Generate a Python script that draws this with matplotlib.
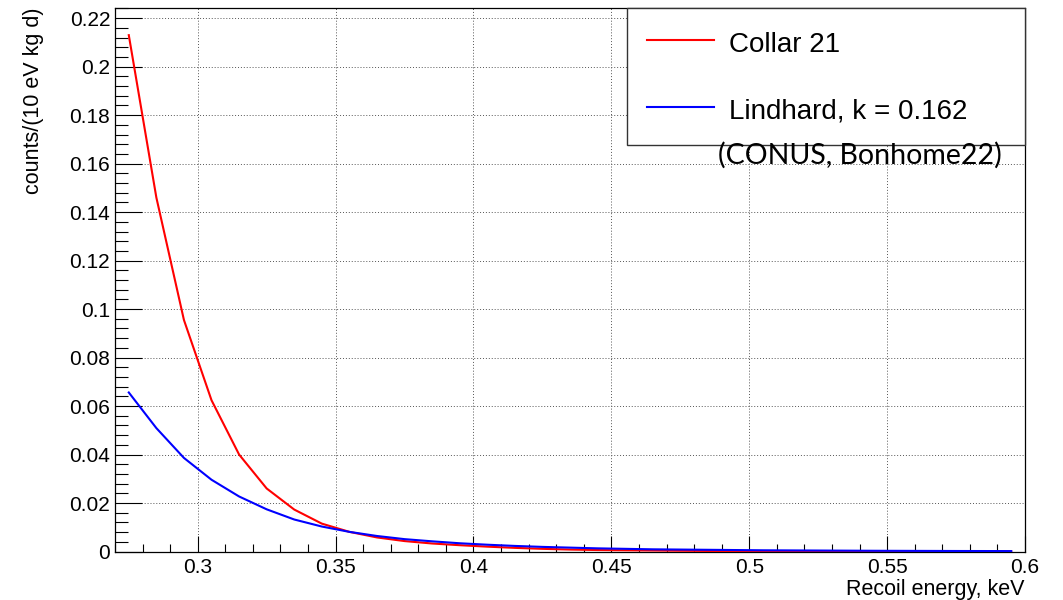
import matplotlib
matplotlib.use("Agg")
import matplotlib.pyplot as plt
from matplotlib.ticker import MultipleLocator, FuncFormatter

# ---- data (bin centers, keV) ----
energy = [0.275, 0.285, 0.295, 0.305, 0.315, 0.325, 0.335, 0.345, 0.355, 0.365,
          0.375, 0.385, 0.395, 0.405, 0.415, 0.425, 0.435, 0.445, 0.455, 0.465,
          0.475, 0.485, 0.495, 0.505, 0.515, 0.525, 0.535, 0.545, 0.555, 0.565,
          0.575, 0.585, 0.595]
collar21 = [0.2130, 0.1460, 0.0955, 0.0624, 0.0400, 0.0260, 0.0173, 0.0115, 0.0081, 0.0058,
            0.0043, 0.0033, 0.0026, 0.0020, 0.0015, 0.0011, 0.0008, 0.0006, 0.0005, 0.0004,
            0.0003, 0.00022, 0.00016, 0.00012, 0.00009, 0.00007, 0.00005, 0.00004, 0.00003, 0.00002,
            0.00002, 0.00001, 0.00001]
lindhard = [0.0656, 0.0509, 0.0386, 0.0296, 0.0227, 0.0174, 0.0132, 0.0103, 0.0081, 0.0064,
            0.0051, 0.0042, 0.0034, 0.0028, 0.0023, 0.0019, 0.0016, 0.0013, 0.0011, 0.0009,
            0.0008, 0.0007, 0.0006, 0.0005, 0.00045, 0.0004, 0.00035, 0.0003, 0.00027, 0.00024,
            0.00021, 0.00019, 0.00017]
labels = ["Collar 21", "Lindhard, k = 0.162"]
note = "(CONUS, Bonhome22)"
xlabel = "Recoil energy, keV"
ylabel = "counts/(10 eV kg d)"

plt.rcParams['font.family'] = ['Liberation Sans', 'DejaVu Sans']

fig = plt.figure(figsize=(10.63, 6.0), dpi=100)
ax = fig.add_axes([115/1063, 1-551.5/600, (1025-115)/1063, (551.5-8)/600])

ax.plot(energy, collar21, color='#ff0000', lw=1.5, label=labels[0], zorder=3)
ax.plot(energy, lindhard, color='#0000ff', lw=1.5, label=labels[1], zorder=4)

ax.set_xlim(0.27, 0.60)
ax.set_ylim(0, 0.2242)

ax.xaxis.set_major_locator(MultipleLocator(0.05))
ax.xaxis.set_minor_locator(MultipleLocator(0.01))
ax.yaxis.set_major_locator(MultipleLocator(0.02))
ax.yaxis.set_minor_locator(MultipleLocator(0.004))
fmt = FuncFormatter(lambda v, p: "%g" % round(v, 6))
ax.xaxis.set_major_formatter(fmt)
ax.yaxis.set_major_formatter(fmt)

ax.tick_params(axis='both', which='both', direction='in', labelsize=15, width=0.8)
ax.tick_params(axis='y', which='major', length=19.4, pad=3.5)
ax.tick_params(axis='y', which='minor', length=9.7)
ax.tick_params(axis='x', which='major', length=11.7, pad=5)
ax.tick_params(axis='x', which='minor', length=5.8)

ax.grid(True, which='major', color='#555555', linestyle=(0, (1, 2)), linewidth=0.7)
for s in ax.spines.values():
    s.set_linewidth(0.9)

ax.set_xlabel(xlabel, fontsize=15.5)
ax.xaxis.label.set(ha='right', va='center')
ax.xaxis.set_label_coords(1.0, -0.0708)
ax.set_ylabel(ylabel, fontsize=15.5)
ax.yaxis.label.set(ha='right', va='center', rotation_mode='anchor')
ax.yaxis.set_label_coords(-0.0901, 1.0)

leg = ax.legend(loc='upper left', bbox_to_anchor=(0.5626, 0.0, 0.4374, 1.0), mode='expand',
                borderaxespad=0, fontsize=20, frameon=True, fancybox=False,
                handlelength=2.4, handleheight=1.25, handletextpad=0.55,
                borderpad=0.73, labelspacing=1.31)
leg.get_frame().set_edgecolor('#333333')
leg.get_frame().set_linewidth(1.0)
leg.get_frame().set_alpha(1.0)
for h in leg.get_lines():
    h.set_linewidth(1.5)

ax.text(860/1063, 1-155/600, note, transform=fig.transFigure, ha='center', va='center',
        fontsize=20.5, family=['Lato', 'DejaVu Sans'], zorder=6)

fig.savefig("out.png", dpi=100)
